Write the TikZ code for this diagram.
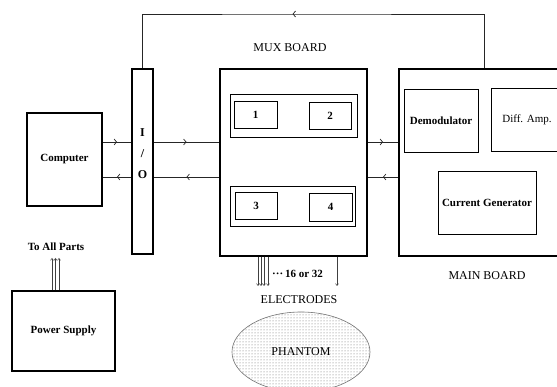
\documentclass[tikz,border=0pt]{standalone}
\usepackage{fontspec}
\setmainfont{Liberation Serif}
\usetikzlibrary{arrows.meta, positioning, patterns, shapes.geometric, decorations.markings}

\begin{document}
\begin{tikzpicture}[x=1pt, y=-1pt,
    board/.style={draw, line width=1.5pt, inner sep=0pt,
                  font=\fontsize{11}{13}\selectfont\bfseries},
    unit/.style={draw, line width=0.8pt, inner sep=0pt,
                 font=\fontsize{11}{13}\selectfont\bfseries},
    lbl/.style={inner sep=0pt, font=\fontsize{12}{14}\selectfont},
    wire/.style={line width=0.7pt, draw=black!85},
    flow/.style={wire, postaction={decorate},
                 decoration={markings, mark=at position #1 with
                   {\arrow{Straight Barb[length=2.5pt,width=6pt]}}}},
    flow/.default=0.5,
    tip/.style={line width=0.5pt, draw=black!75,
                -{Straight Barb[length=2pt,width=3pt]}},
    phantomzone/.style={ellipse, draw=gray!90!black, line width=0.6pt,
                        pattern=dots, pattern color=black!60,
                        inner sep=0pt, font=\fontsize{12}{14}\selectfont},
]
  \useasboundingbox (0,0) rectangle (557,387);

  % Boards
  \node[board, minimum width=75, minimum height=93]  (comp) at (64.5,159.5) {Computer};
  \node[board, minimum width=21, minimum height=185] (io)   at (142.5,161.5) {};
  \node[inner sep=0pt, align=center, font=\fontsize{12}{21}\selectfont\bfseries]
       (iotext) at (142.5,154) {I\\/\\O};
  \node[board, minimum width=147, minimum height=187] (mux) at (293.5,162.5) {};
  \node[board, minimum width=170, minimum height=187] (main) at (484,162.5) {};
  \node[board, minimum width=103, minimum height=80] (power) at (63.5,331) {Power Supply};

  % MUX board contents
  \node[unit, minimum width=127, minimum height=43] (muxtop) at (293.5,115.5) {};
  \node[unit, minimum width=43, minimum height=27]  (ch1) at (255.5,114.5) {1};
  \node[unit, minimum width=42, minimum height=27]  (ch2) at (330,115.5) {2};
  \node[unit, minimum width=125, minimum height=40] (muxbot) at (292.5,206) {};
  \node[unit, minimum width=42, minimum height=27]  (ch3) at (256,205.5) {3};
  \node[unit, minimum width=43, minimum height=28]  (ch4) at (330.5,207) {4};

  % Main board contents
  \node[unit, minimum width=74, minimum height=63] (demod) at (441,120.5) {Demodulator};
  \node[unit, minimum width=72, minimum height=63, font=\fontsize{11}{13}\selectfont]
       (diffamp) at (527,119.5) {Diff. Amp.};
  \node[unit, minimum width=98, minimum height=63] (curgen) at (487,202.5) {Current Generator};

  % Labels
  \node[lbl] (muxlbl)   at (290,48)  {MUX BOARD};
  \node[lbl] (mainlbl)  at (487,276) {MAIN BOARD};
  \node[lbl] (eleclbl)  at (299,300) {ELECTRODES};
  \node[lbl, font=\fontsize{11}{13}\selectfont\bfseries] (partslbl) at (56,247) {To All Parts};
  \node[lbl, font=\fontsize{11}{13}\selectfont\bfseries, anchor=west]
       (countlbl) at (272,274) {···\,16 or 32};

  \node[phantomzone, minimum width=138, minimum height=80] (phantom) at (301,352) {PHANTOM};

  % Data lines
  \coordinate (upper) at (0,142);
  \coordinate (lower) at (0,177);
  \coordinate (topline) at (300,14);

  \draw[flow] (comp.east |- upper) -- (io.west |- upper);
  \draw[flow] (io.west |- lower) -- (comp.east |- lower);
  \draw[flow] (io.east |- upper) -- (mux.west |- upper);
  \draw[flow] (mux.west |- lower) -- (io.east |- lower);
  \draw[flow] (mux.east |- upper) -- (main.west |- upper);
  \draw[flow] (main.west |- lower) -- (mux.east |- lower);
  \draw[flow=0.546] (main.north) |- (topline) -| (io.north);

  % Electrodes
  \foreach \x in {258,261,264,268,337}
    \draw[tip] (mux.south -| \x,0) -- (\x,286);

  % Power
  \foreach \x in {52,55.5,59}
    \draw[tip] (power.north -| \x,0) -- (\x,258);

\end{tikzpicture}
\end{document}
